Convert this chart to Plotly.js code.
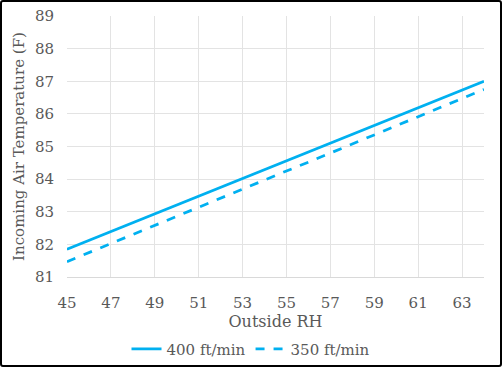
<!DOCTYPE html>
<html><head><meta charset="utf-8">
<script src="https://cdn.plot.ly/plotly-3.0.1.min.js"></script>
<style>
html,body{margin:0;padding:0;background:#fff;}
#chart{position:absolute;left:0;top:0;width:502px;height:367px;}
#frame{position:absolute;left:0;top:0;width:502px;height:367px;box-sizing:border-box;border:2px solid #000;border-radius:3px;pointer-events:none;}
</style></head>
<body><div id="chart"></div><div id="frame"></div>
<script>
const outsideRH = [45,46,47,48,49,50,51,52,53,54,55,56,57,58,59,60,61,62,63,64];
const temp400 = [81.85,82.12,82.39,82.66,82.94,83.21,83.48,83.75,84.02,84.30,84.57,84.84,85.11,85.38,85.65,85.92,86.19,86.46,86.73,87.00];
const temp350 = [81.47,81.75,82.03,82.30,82.58,82.86,83.14,83.41,83.69,83.97,84.25,84.52,84.80,85.08,85.36,85.63,85.91,86.19,86.47,86.75];
const xTicks = [45,47,49,51,53,55,57,59,61,63];
const yTicks = [81,82,83,84,85,86,87,88,89];
const seriesNames = ['400 ft/min','350 ft/min'];

const font = {family:'DejaVu Serif, Georgia, serif', color:'#595959'};
const traces = [
  {x:outsideRH, y:temp400, name:seriesNames[0], mode:'lines', line:{color:'#00B0F0', width:2.75}},
  {x:outsideRH, y:temp350, name:seriesNames[1], mode:'lines', line:{color:'#00B0F0', width:2.75, dash:'dash'}}
];
const layout = {
  width:502, height:367,
  margin:{l:67, r:18, t:16, b:90, autoexpand:false},
  paper_bgcolor:'#fff', plot_bgcolor:'#fff',
  font:{family:font.family, color:font.color, size:14},
  showlegend:true,
  legend:{orientation:'h', x:0.5, xanchor:'center', xref:'container', yref:'container', y:0.049, yanchor:'middle',
          font:{size:15, color:'#595959'}, itemwidth:30, tracegroupgap:0},
  xaxis:{range:[45,64], tickvals:xTicks, ticktext:xTicks.map(String), showgrid:true, gridcolor:'#e3e3e3', gridwidth:1,
         zeroline:false, showline:true, linecolor:'#d9d9d9', ticks:'', tickfont:{size:15}, ticklabelstandoff:12,
         title:{text:'Outside RH', font:{size:16}, standoff:0}},
  yaxis:{range:[81,89], tickvals:yTicks, showgrid:true, gridcolor:'#e3e3e3', gridwidth:1, zeroline:false, showline:false,
         ticks:'', tickfont:{size:15}, ticklabelstandoff:12, title:{text:'Incoming Air Temperature (F)', font:{size:15}, standoff:6}}
};
Plotly.newPlot('chart', traces, layout, {displayModeBar:false, staticPlot:true});
</script></body></html>
